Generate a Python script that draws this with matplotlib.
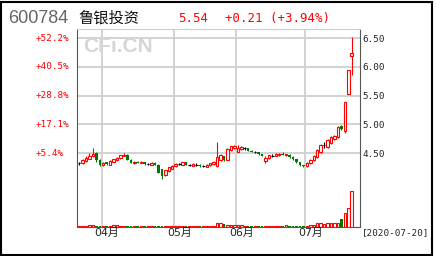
import numpy as np, matplotlib
matplotlib.use("Agg"); import matplotlib.pyplot as plt
from matplotlib.patches import Rectangle
from matplotlib.transforms import blended_transform_factory as blend

# daily candles 2020-03-23 .. 2020-07-20
o=[4.32,4.32,4.36,4.40,4.44,4.50,4.38, 4.29,4.34,4.30,4.35,4.37,4.41,4.45,4.47,4.38,4.32,4.35,4.33,4.34,4.31,4.30,4.33,4.30,4.22,4.11,4.18,4.23,
   4.27,4.31,4.30,4.34,4.29,4.28,4.30,4.30,4.27,4.26,4.29,4.31,4.27,4.38,4.44,4.38,4.55,4.58,
   4.52,4.57,4.58,4.58,4.54,4.52,4.51,4.48,4.36,4.41,4.45,4.45,4.47,4.49,4.47,4.47,4.43,4.39,4.34,4.29,
   4.27,4.32,4.37,4.43,4.52,4.64,4.60,4.68,4.74,4.78,4.97,4.88,5.53,6.18]
h=[4.35,4.39,4.44,4.50,4.59,4.51,4.39, 4.34,4.35,4.37,4.40,4.43,4.47,4.50,4.48,4.39,4.36,4.36,4.36,4.35,4.33,4.34,4.34,4.31,4.23,4.21,4.26,4.30,
   4.32,4.33,4.35,4.35,4.31,4.32,4.32,4.31,4.29,4.31,4.33,4.36,4.69,4.48,4.45,4.58,4.63,4.64,
   4.64,4.63,4.60,4.59,4.56,4.54,4.52,4.49,4.44,4.47,4.48,4.50,4.50,4.51,4.49,4.48,4.44,4.40,4.35,4.30,
   4.35,4.40,4.46,4.57,4.66,4.70,4.75,4.80,4.82,4.97,4.99,5.39,5.94,6.52]
l=[4.30,4.31,4.35,4.39,4.43,4.35,4.28, 4.27,4.30,4.29,4.34,4.36,4.40,4.44,4.37,4.32,4.31,4.32,4.32,4.30,4.29,4.29,4.29,4.15,4.05,4.10,4.17,4.22,
   4.26,4.29,4.29,4.29,4.27,4.27,4.28,4.26,4.25,4.25,4.28,4.30,4.26,4.36,4.36,4.37,4.54,4.57,
   4.51,4.55,4.55,4.53,4.51,4.50,4.47,4.44,4.33,4.40,4.43,4.44,4.45,4.46,4.45,4.42,4.38,4.33,4.28,4.25,
   4.26,4.31,4.36,4.42,4.50,4.58,4.58,4.66,4.72,4.76,4.90,4.85,5.53,5.86]
c=[4.32,4.37,4.42,4.45,4.48,4.37,4.30, 4.33,4.31,4.36,4.39,4.42,4.46,4.47,4.38,4.33,4.35,4.33,4.35,4.31,4.31,4.33,4.30,4.16,4.10,4.20,4.25,4.28,
   4.31,4.31,4.34,4.30,4.29,4.31,4.30,4.27,4.27,4.30,4.32,4.35,4.43,4.46,4.37,4.57,4.62,4.63,
   4.59,4.61,4.58,4.54,4.52,4.52,4.48,4.45,4.42,4.46,4.45,4.48,4.49,4.47,4.48,4.43,4.39,4.34,4.29,4.27,
   4.33,4.38,4.44,4.55,4.64,4.64,4.72,4.77,4.80,4.95,4.91,5.39,5.94,6.24]
vol=[1,1,1.5,2,2,1.5,1, 1,1,1,2,2.5,1.5,1,1,1,1,1,1,1,1,1,1,1,1.5,1.5,1,1,
     1,1,1,1,1,1,1,1,1,1,1,1.5,4,4,3,2,2,2.5,
     2.5,2,1.5,1.5,1.5,1,1,1,1.5,1,1,1,1,1,2,1,1,1,1,1,
     1.5,2,2,4,4,3.5,4,4,4,4,8,14,19,36]
month_labels=["04月","05月","06月","07月"]
month_start=[7,28,46,66]
price_ticks=[4.50,5.00,5.50,6.00,6.50]
base_price=4.27
RED="#ff0000"; GREEN="#007700"; MONO="DejaVu Sans Mono"

o,h,l,c,vol=map(np.array,(o,h,l,c,vol)); x=np.arange(len(c))
up=c>o; dn=c<o; dj=c==o

fig=plt.figure(figsize=(4.36,2.56),dpi=100)
ax=fig.add_axes([77/436,29/256,283/436,198/256])
ax.set_xlim(-0.6,81.4); ax.set_ylim(3.213,6.657)
ax.vlines(x[up],l[up],h[up],color=RED,lw=0.8,zorder=2)
ax.bar(x[up],c[up]-o[up],bottom=o[up],width=0.72,facecolor="white",edgecolor=RED,lw=0.8,zorder=3)
ax.vlines(x[dn],l[dn],h[dn],color=GREEN,lw=0.8,zorder=2)
ax.bar(x[dn],o[dn]-c[dn],bottom=c[dn],width=0.72,color=GREEN,lw=0,zorder=3)
ax.vlines(x[dj],l[dj],h[dj],color="black",lw=0.8,zorder=2)
ax.hlines(c[dj],x[dj]-0.4,x[dj]+0.4,color="black",lw=0.8,zorder=3)

# volume in the lower part
av=ax.twinx(); av.set_ylim(0,198); av.axis("off")
av.bar(x[~dn],vol[~dn],width=0.72,facecolor="white",edgecolor=RED,lw=0.8)
av.bar(x[dn],vol[dn],width=0.72,color=GREEN,lw=0)

mpos=np.array(month_start)-0.5
ax.set_xticks(mpos); ax.set_xticklabels([]); ax.tick_params(axis="x",length=0)
ax.set_yticks(price_ticks); ax.yaxis.tick_right()
ax.set_yticklabels(["%.2f"%p for p in price_ticks],fontsize=6.7,family=MONO,color="#222222")
ax.tick_params(axis="y",length=0,pad=2)
ax.grid(True,color="#cfcfcf",lw=1.3,zorder=0); ax.set_axisbelow(True)
for s in ("left","right","bottom"): ax.spines[s].set_color("#555555")
ax.spines["top"].set_color("#cccccc")

tl=blend(fig.transFigure,ax.transData)
for p in price_ticks:
    ax.text(36/436,p,"%+.1f%%"%((p/base_price-1)*100),transform=tl,ha="left",va="center",fontsize=6.7,family=MONO,color=RED)
tb=blend(ax.transData,fig.transFigure)
for m,lab in zip(mpos,month_labels):
    ax.text(m+1.6,1-233/256,lab,transform=tb,ha="center",va="center",fontsize=7.8,family=["DejaVu Sans","Noto Sans CJK SC"],color="#222222")
fig.text(362/436,1-233/256,"[2020-07-20]",ha="left",va="center",fontsize=6.7,family=MONO,color="#222222")

ax.text(83/436,1-47/256,"CFi.CN",transform=fig.transFigure,ha="left",va="center",fontsize=15,weight="bold",family="Liberation Sans",color="#d6d6d6",zorder=1)
yt=1-18.5/256
fig.text(8/436,yt,"600784",ha="left",va="center",fontsize=13,family="Liberation Sans",color="#666666")
fig.text(78/436,yt,"鲁银投资",ha="left",va="center",fontsize=11,family="Noto Sans CJK SC",color="#111111")
fig.text(178/436,yt,"5.54",ha="left",va="center",fontsize=8.9,family=MONO,color=RED)
fig.text(225/436,yt,"+0.21 (+3.94%)",ha="left",va="center",fontsize=8.9,family=MONO,color=RED)
fig.add_artist(Rectangle((1/436,1.5/256),431/436,252.5/256,transform=fig.transFigure,fill=False,ec="black",lw=1.5))
fig.savefig("out.png",dpi=100)
